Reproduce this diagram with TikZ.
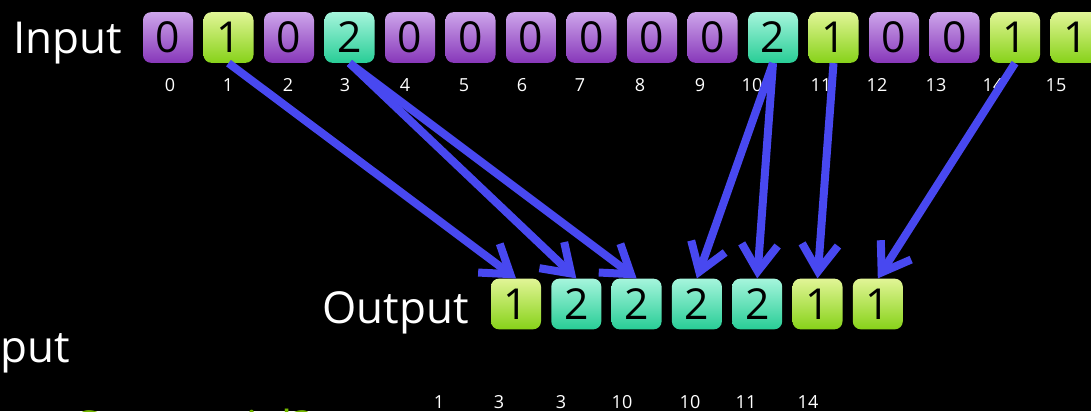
\documentclass[tikz,border=0pt]{standalone}
\usepackage{fontspec}
\setmainfont{Open Sans}
\usetikzlibrary{arrows.meta}
\definecolor{purpTop}{RGB}{205,165,235}
\definecolor{purpBot}{RGB}{135,55,185}
\definecolor{grnTop}{RGB}{225,245,150}
\definecolor{grnBot}{RGB}{135,210,25}
\definecolor{tealTop}{RGB}{165,245,220}
\definecolor{tealBot}{RGB}{40,205,150}
\definecolor{arrowblue}{RGB}{72,72,240}
\definecolor{nvgreen}{RGB}{118,185,0}
\begin{document}
\begin{tikzpicture}[x=0.75pt,y=-0.75pt,
  cell/.style={minimum width=37.5pt,minimum height=38pt,rounded corners=6pt,inner sep=0pt,
    font=\fontsize{32}{32}\selectfont,text=black},
  v0/.style={cell,top color=purpTop,bottom color=purpBot},
  v1/.style={cell,top color=grnTop,bottom color=grnBot},
  v2/.style={cell,top color=tealTop,bottom color=tealBot},
  bigtxt/.style={anchor=base west,inner sep=0pt,text=white,font=\fontsize{33}{33}\selectfont},
  idx/.style={inner sep=0pt,text=white,font=\fontsize{13.5}{13.5}\selectfont},
  arr/.style={draw=arrowblue,line width=6pt,-{Straight Barb[length=20pt,width=27pt]}}
]
\fill[black] (0,0) rectangle (1091,411);
\useasboundingbox (0,0) rectangle (1091,411);

% input row
\node[bigtxt] (inlabel) at (13,53) {Input};
\foreach \v [count=\k from 0] in {0,1,0,2,0,0,0,0,0,0,2,1,0,0,1,1}{
  \node[v\v] (in\k) at ({168+60.5*\k},37.5) {\v};
}
\foreach \k/\xx in {0/170,1/228,2/288,3/345,4/405,5/464,6/522,7/580,8/640,9/700,10/752,11/821,12/877,13/936,14/993,15/1056}{
  \node[idx] (ix\k) at (\xx,85) {\k};
}

% output row
\node[bigtxt] (outlabel) at (322,323) {Output};
\foreach \v [count=\k from 1] in {1,2,2,2,2,1,1}{
  \node[v\v] (out\k) at ({516+60.3*(\k-1)},304) {\v};
}
\foreach \t/\xx [count=\k] in {1/439,3/499,3/561,10/622,10/690,11/746,14/808}{
  \node[idx] (ox\k) at (\xx,402) {\t};
}

% arrows
\draw[arr] (in1.south) -- (out1.north);
\draw[arr] (in3.south) -- (out2.north);
\draw[arr] (in3.south) -- (out3.north);
\draw[arr] (in10.south) -- (out4.north);
\draw[arr] (in10.south) -- (out5.north);
\draw[arr] (in11.south) -- (out6.north);
\draw[arr] (in14.south) -- (out7.north);

% cut-off texts at the left and bottom (as in the reference)
\node[bigtxt] (putlabel) at (0,362) {put};
\node[bigtxt,text=nvgreen] (greentxt) at (76,442) {Sequential?};
\end{tikzpicture}
\end{document}
